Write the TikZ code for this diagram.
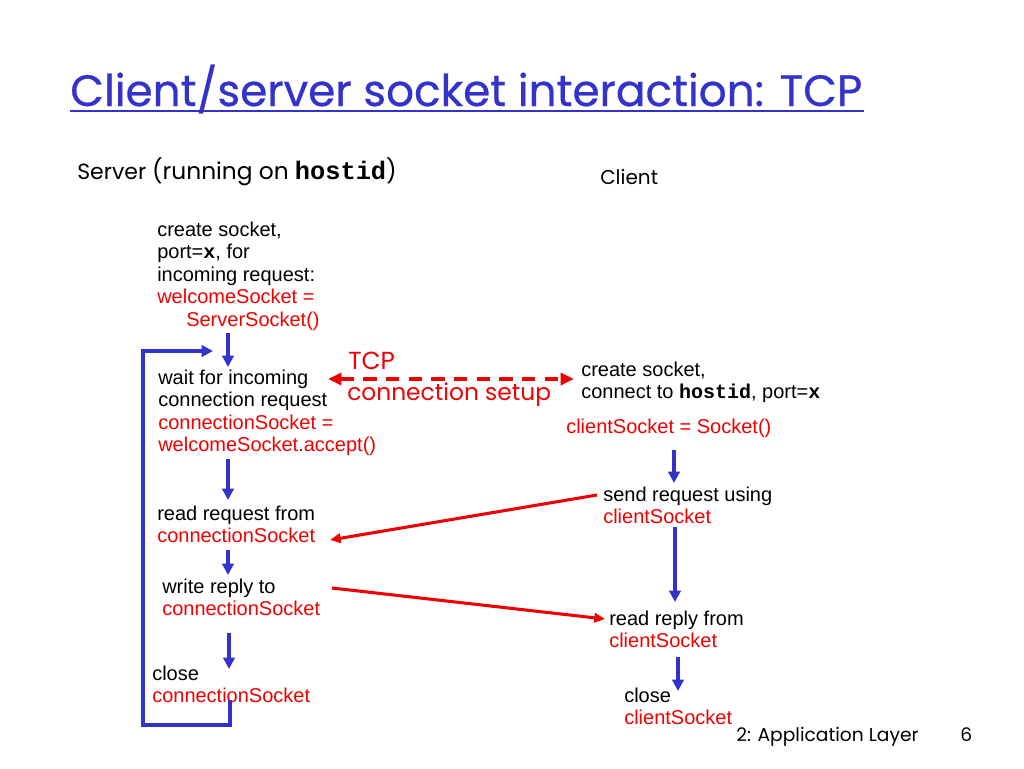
\documentclass[tikz,border=0pt]{standalone}
\usepackage{fontspec}
\setmainfont{Liberation Sans}
\setmonofont{Liberation Mono}
\newfontfamily\comic{Poppins}
\newfontfamily\comict{Poppins}[FakeBold=0.6]
\usetikzlibrary{arrows.meta}
\definecolor{tblue}{RGB}{51,51,204}
\definecolor{tred}{RGB}{240,0,0}
\newcommand{\rd}[1]{\textcolor{tred}{#1}}
\newcommand{\mb}[1]{{\ttfamily\bfseries #1}}
\newcommand{\blk}[1]{\vtop{\baselineskip=16.95pt #1}}
\begin{document}
\begin{tikzpicture}[x=0.75pt,y=-0.75pt,
  txt/.style={anchor=base west,inner sep=0pt,font=\fontsize{15pt}{16.95pt}\selectfont},
  flowline/.style={tblue,line width=2.3pt,line join=miter},
  flow/.style={flowline,-{Triangle[length=8.5pt,width=8.5pt]}},
  msg/.style={tred,line width=2.3pt,-{Triangle[length=8pt,width=7pt]}},
  setup/.style={tred,line width=3pt,dash pattern=on 10pt off 7pt,{Triangle[length=10pt,width=9pt]}-{Triangle[length=10pt,width=9pt]}}]
\useasboundingbox (0,0) rectangle (1024,768);
\fill[white] (0,0) rectangle (1024,768);
% title
\node[anchor=base west,inner sep=0pt,text=tblue] (title) at (70,106)
  {\resizebox{594pt}{31pt}{\comict\fontsize{40pt}{44pt}\selectfont Client/server socket interaction: TCP}};
\coordinate (ul1) at (70,111);
\coordinate (ul2) at (864,111);
\draw[tblue,line width=1.5pt] (ul1) -- (ul2);
% headers
\node[anchor=base west,inner sep=0pt] (srv) at (77,179)
  {{\comic\fontsize{16.5pt}{18pt}\selectfont Server }{\comic\fontsize{17.5pt}{20pt}\selectfont(running on \mb{\fontsize{19pt}{20pt}\selectfont hostid})}};
\node[anchor=base west,inner sep=0pt] (cli) at (600,184)
  {\comic\fontsize{15pt}{18pt}\selectfont Client};
% server blocks
\node[txt] (s1) at (157,236) {\blk{\hbox{create socket,}\hbox{port=\mb{x}, for}\hbox{incoming request:}\hbox{\rd{welcomeSocket =}}\hbox{\hspace{21.75pt}\rd{ServerSocket()}}}};
\node[txt] (s2) at (158,384) {\blk{\hbox{wait for incoming}\hbox{connection request}\hbox{\rd{connectionSocket =}}\hbox{\rd{welcomeSocket.accept()}}}};
\node[txt] (s3) at (157,520) {\blk{\hbox{read request from}\hbox{\rd{connectionSocket}}}};
\node[txt] (s4) at (162,593) {\blk{\hbox{write reply to}\hbox{\rd{connectionSocket}}}};
\node[txt] (s5) at (152,680) {\blk{\hbox{close}\hbox{\rd{connectionSocket}}}};
% client blocks
\node[txt] (c1) at (581,376) {\blk{\hbox{create socket,}\hbox{connect to \mb{hostid}, port=\mb{x}}}};
\node[txt] (c1b) at (566,433) {\rd{clientSocket = Socket()}};
\node[txt] (c2) at (603,501) {\blk{\hbox{send request using}\hbox{\rd{clientSocket}}}};
\node[txt] (c3) at (609,625) {\blk{\hbox{read reply from}\hbox{\rd{clientSocket}}}};
\node[txt] (c4) at (624,702) {\blk{\hbox{close}\hbox{\rd{clientSocket}}}};
% TCP label
\node[anchor=base west,inner sep=0pt,text=tred] (tcp) at (348,369)
  {\comic\fontsize{18.5pt}{20pt}\selectfont TCP};
\node[anchor=base west,inner sep=0pt,text=tred] (cs) at (347,400)
  {\comic\fontsize{17.5pt}{20pt}\selectfont connection setup};
% footer
\node[anchor=base west,inner sep=0pt] (foot) at (736,741)
  {\comic\fontsize{14pt}{16pt}\selectfont 2: Application Layer};
\node[anchor=base west,inner sep=0pt] (pg) at (960,741)
  {\comic\fontsize{14pt}{16pt}\selectfont 6};
% coordinates for connectors
\coordinate (a1s) at (228,333); \coordinate (a1e) at (228,367);
\coordinate (a2s) at (228,459); \coordinate (a2e) at (228,500);
\coordinate (a3s) at (228,550); \coordinate (a3e) at (228,575);
\coordinate (a4s) at (229,633); \coordinate (a4e) at (229,669);
\coordinate (lp1) at (230,700); \coordinate (lp2) at (230,725);
\coordinate (lp3) at (143,725); \coordinate (lp4) at (143,351);
\coordinate (lp5) at (213,351);
\coordinate (b1s) at (674,450); \coordinate (b1e) at (674,483);
\coordinate (b2s) at (675,527); \coordinate (b2e) at (675,602);
\coordinate (b3s) at (678,657); \coordinate (b3e) at (678,691);
\coordinate (d1) at (328,379); \coordinate (d2) at (574,379);
\coordinate (r1s) at (597,495); \coordinate (r1e) at (330,540);
\coordinate (r2s) at (332,588); \coordinate (r2e) at (605,619);
% connectors
\draw[flow] (a1s) -- (a1e);
\draw[flow] (a2s) -- (a2e);
\draw[flow] (a3s) -- (a3e);
\draw[flow] (a4s) -- (a4e);
\draw[flow] (lp1) -- (lp2) -- (lp3) -- (lp4) -- (lp5);
\draw[flow] (b1s) -- (b1e);
\draw[flow] (b2s) -- (b2e);
\draw[flow] (b3s) -- (b3e);
\draw[setup] (d1) -- (d2);
\draw[msg] (r1s) -- (r1e);
\draw[msg] (r2s) -- (r2e);
\end{tikzpicture}
\end{document}
